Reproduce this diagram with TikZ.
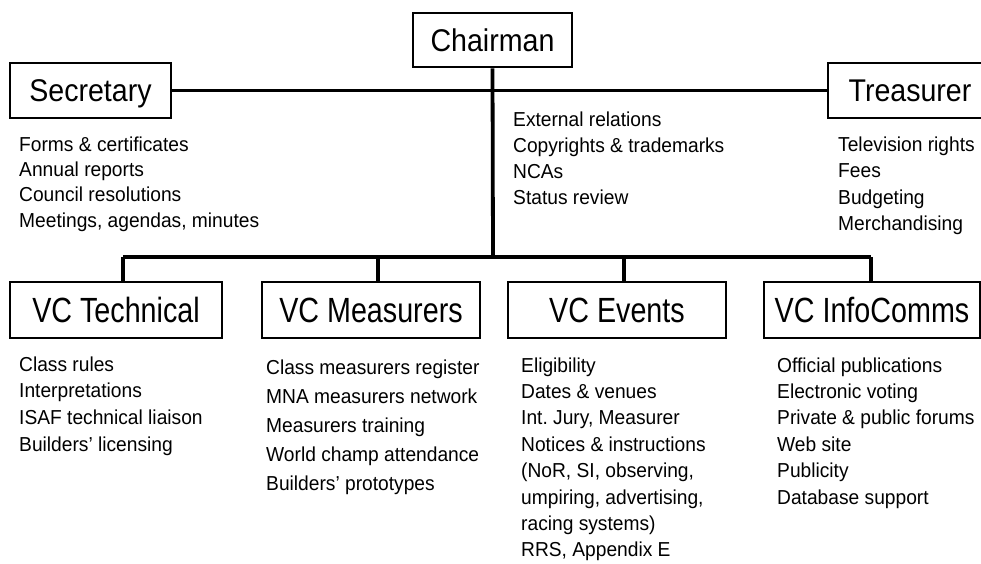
\documentclass[tikz,border=0pt]{standalone}
\usepackage{fontspec}
\setmainfont{Liberation Sans}
\newfontfamily\topfont[FakeStretch=0.91]{Liberation Sans}
\newfontfamily\botfont[FakeStretch=0.82]{Liberation Sans}
\newfontfamily\itemfont[FakeStretch=0.95]{Liberation Sans}
\frenchspacing
\newcommand\itemcol[5]{%
  \foreach \t [count=\i] in {#5}
    \node[itemtxt] (#1-\i) at (#2, {#3+#4*(\i-1)}) {\t};%
}
\begin{document}
\begin{tikzpicture}[x=1pt, y=-1pt,
  toptitle/.style={draw=black, line width=2.8pt, inner sep=0pt, align=center,
    font=\topfont\fontsize{31.4}{34}\selectfont, text height=22.5pt, text depth=0pt,
    minimum height=55pt},
  bottitle/.style={draw=black, line width=2.8pt, inner sep=0pt, align=center,
    font=\botfont\fontsize{35}{38}\selectfont, text height=25pt, text depth=0pt,
    minimum height=56pt},
  itemtxt/.style={anchor=base west, inner sep=0pt, font=\itemfont\fontsize{20.2}{23}\selectfont\frenchspacing},
  conn/.style={line width=3.8pt},
  drop/.style={line width=3.2pt}]
\useasboundingbox (0,0) rectangle (981,563);
\clip (0,0) rectangle (981,563);

% top row boxes
\node[toptitle, minimum width=159pt, minimum height=54pt] (chair) at (492.5,40) {Chairman};
\node[toptitle, minimum width=161pt] (sec) at (90.5,90.5) {Secretary};
\node[toptitle, minimum width=164pt] (tre) at (910,90.5) {Treasurer};

% bottom row boxes
\node[bottitle, minimum width=212pt] (vct) at (116,310) {VC Technical};
\node[bottitle, minimum width=218pt] (vcm) at (371,310) {VC Measurers};
\node[bottitle, minimum width=218pt] (vce) at (617,310) {VC Events};
\node[bottitle, minimum width=216pt] (vci) at (872,310) {VC InfoComms};

\coordinate (bus) at (493,257);

% connectors
\draw[conn] (sec.east) -- (tre.west);
\draw[conn] (chair.south) -- (bus);
\draw[conn] ([xshift=7pt]vct.north |- bus) -- ([xshift=-1pt]vci.north |- bus);
\draw[drop] ([xshift=7pt]vct.north) -- ([xshift=7pt]vct.north |- bus);
\draw[drop] ([xshift=7pt]vcm.north) -- ([xshift=7pt]vcm.north |- bus);
\draw[drop] ([xshift=7pt]vce.north) -- ([xshift=7pt]vce.north |- bus);
\draw[drop] ([xshift=-1pt]vci.north) -- ([xshift=-1pt]vci.north |- bus);

% lists
\itemcol{seci}{19}{151}{25.4}{Forms \& certificates, Annual reports, Council resolutions, {Meetings, agendas, minutes}}
\itemcol{chairi}{513}{126}{26}{External relations, Copyrights \& trademarks, NCAs, Status review}
\itemcol{trei}{838}{151}{26.5}{Television rights, Fees, Budgeting, Merchandising}
\itemcol{vcti}{19}{371}{26.7}{Class rules, Interpretations, ISAF technical liaison, Builders’ licensing}
\itemcol{vcmi}{266}{374}{29.2}{Class measurers register, MNA measurers network, Measurers training, World champ attendance, Builders’ prototypes}
\itemcol{vcei}{521}{372}{26.4}{Eligibility, Dates \& venues, {Int. Jury, Measurer}, Notices \& instructions, {(NoR, SI, observing,}, {umpiring, advertising,}, racing systems), {RRS, Appendix E}}
\itemcol{vcii}{777}{372}{26.4}{Official publications, Electronic voting, Private \& public forums, Web site, Publicity, Database support}
\end{tikzpicture}
\end{document}
